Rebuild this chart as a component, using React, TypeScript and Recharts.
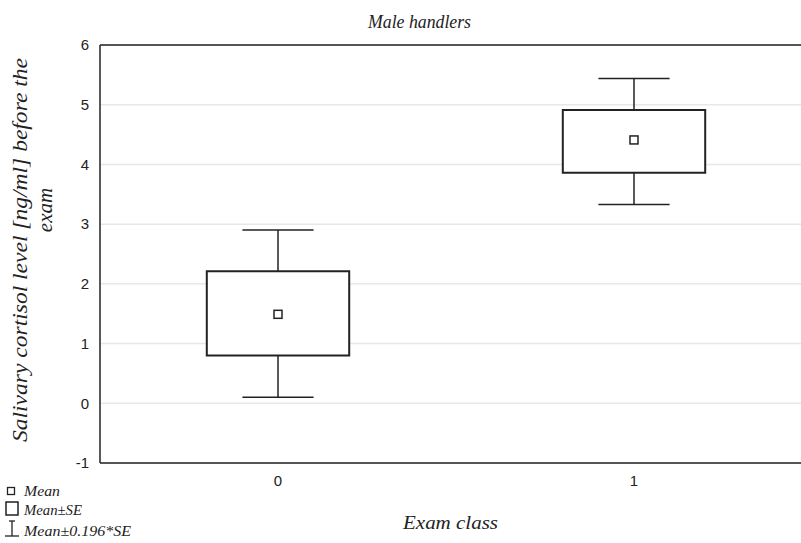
import {
  CartesianGrid,
  ComposedChart,
  ReferenceArea,
  ReferenceLine,
  Scatter,
  XAxis,
  YAxis,
} from "recharts";

const classes = [0, 1];
const means = [1.49, 4.41];
const seLow = [0.8, 3.86];
const seHigh = [2.21, 4.91];
const whiskLow = [0.1, 3.33];
const whiskHigh = [2.9, 5.44];
const yTicks = [-1, 0, 1, 2, 3, 4, 5, 6];

const INK = "#222";
const SERIF = "'Liberation Serif', 'Times New Roman', serif";
const SANS = "'Liberation Sans', Arial, sans-serif";

const meanData = classes.map((c, i) => ({ x: c, y: means[i] }));

function MeanSquare(props: { cx?: number; cy?: number }) {
  const { cx = 0, cy = 0 } = props;
  return <rect x={cx - 4} y={cy - 4} width={8} height={8} fill="#fff" stroke={INK} strokeWidth={1.5} />;
}

export default function App() {
  return (
    <div style={{ position: "absolute", left: 0, top: 0, width: 801, height: 543, overflow: "hidden", background: "#fff" }}>
      <ComposedChart width={812} height={543} margin={{ top: 45, right: 0, bottom: 50, left: 40 }}>
        <CartesianGrid vertical={false} stroke="#e8e8e8" strokeWidth={1.5} />
        <XAxis
          type="number"
          dataKey="x"
          domain={[-0.5, 1.5]}
          ticks={classes}
          height={30}
          tickSize={0}
          tickMargin={12}
          axisLine={{ stroke: INK, strokeWidth: 1.5 }}
          tick={{ fill: INK, fontSize: 15, fontFamily: SANS }}
        />
        <YAxis
          type="number"
          dataKey="y"
          domain={[-1, 6]}
          ticks={yTicks}
          width={60}
          tickSize={0}
          tickMargin={11}
          axisLine={{ stroke: INK, strokeWidth: 1.5 }}
          tick={{ fill: INK, fontSize: 15, fontFamily: SANS }}
        />
        <ReferenceLine y={6} stroke={INK} strokeWidth={1.5} />
        {classes.map((c, i) => (
          <ReferenceLine
            key={`wl-${c}`}
            segment={[{ x: c, y: whiskLow[i] }, { x: c, y: seLow[i] }]}
            stroke={INK}
            strokeWidth={1.5}
          />
        ))}
        {classes.map((c, i) => (
          <ReferenceLine
            key={`wh-${c}`}
            segment={[{ x: c, y: seHigh[i] }, { x: c, y: whiskHigh[i] }]}
            stroke={INK}
            strokeWidth={1.5}
          />
        ))}
        {classes.map((c, i) => (
          <ReferenceLine
            key={`cl-${c}`}
            segment={[{ x: c - 0.1, y: whiskLow[i] }, { x: c + 0.1, y: whiskLow[i] }]}
            stroke={INK}
            strokeWidth={1.5}
          />
        ))}
        {classes.map((c, i) => (
          <ReferenceLine
            key={`ch-${c}`}
            segment={[{ x: c - 0.1, y: whiskHigh[i] }, { x: c + 0.1, y: whiskHigh[i] }]}
            stroke={INK}
            strokeWidth={1.5}
          />
        ))}
        {classes.map((c, i) => (
          <ReferenceArea
            key={`box-${c}`}
            x1={c - 0.2}
            x2={c + 0.2}
            y1={seLow[i]}
            y2={seHigh[i]}
            fill="#fff"
            fillOpacity={1}
            stroke={INK}
            strokeWidth={2}
          />
        ))}
        <Scatter data={meanData} shape={<MeanSquare />} isAnimationActive={false} />
      </ComposedChart>

      <svg width={801} height={543} style={{ position: "absolute", left: 0, top: 0, pointerEvents: "none" }}>
        <text x={368} y={28} textLength={103} lengthAdjust="spacingAndGlyphs" fontFamily={SERIF} fontStyle="italic" fontSize={18} fill={INK}>
          Male handlers
        </text>
        <text x={403} y={529} textLength={95} lengthAdjust="spacingAndGlyphs" fontFamily={SERIF} fontStyle="italic" fontSize={19} fill={INK}>
          Exam class
        </text>
        <text
          transform="translate(27,442) rotate(-90)"
          textLength={384}
          lengthAdjust="spacingAndGlyphs"
          fontFamily={SERIF}
          fontStyle="italic"
          fontSize={21}
          fill={INK}
        >
          Salivary cortisol level [ng/ml] before the
        </text>
        <text
          transform="translate(52,210) rotate(-90)"
          textAnchor="middle"
          fontFamily={SERIF}
          fontStyle="italic"
          fontSize={21}
          fill={INK}
        >
          exam
        </text>
        <rect x={7.5} y={487.5} width={7} height={7} fill="#fff" stroke={INK} strokeWidth={1.3} />
        <text x={24} y={496} textLength={36} lengthAdjust="spacingAndGlyphs" fontFamily={SERIF} fontStyle="italic" fontSize={14} fill={INK}>
          Mean
        </text>
        <rect x={6} y={502} width={12} height={13} fill="#fff" stroke={INK} strokeWidth={1.5} />
        <text x={24} y={515} textLength={58} lengthAdjust="spacingAndGlyphs" fontFamily={SERIF} fontStyle="italic" fontSize={14} fill={INK}>
          Mean±SE
        </text>
        <line x1={12} y1={521} x2={12} y2={536} stroke={INK} strokeWidth={1.3} />
        <line x1={5} y1={536} x2={19} y2={536} stroke={INK} strokeWidth={1.3} />
        <line x1={9} y1={521} x2={15} y2={521} stroke={INK} strokeWidth={1.3} />
        <text x={24} y={536} textLength={107} lengthAdjust="spacingAndGlyphs" fontFamily={SERIF} fontStyle="italic" fontSize={14} fill={INK}>
          Mean±0.196*SE
        </text>
      </svg>
    </div>
  );
}
